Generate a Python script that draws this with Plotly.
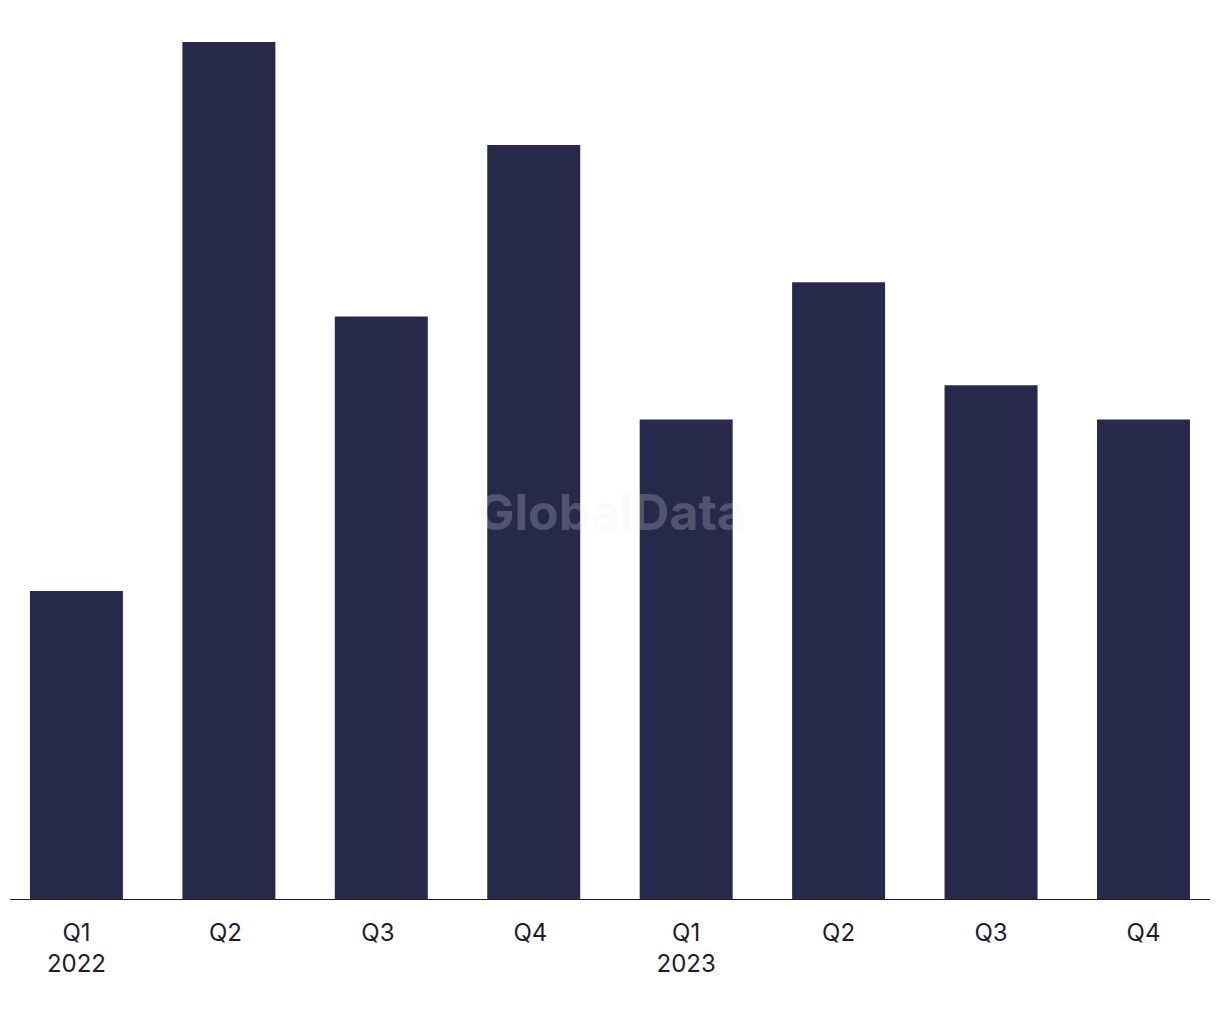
import plotly.graph_objects as go

categories = ["Q1<br>2022", "Q2 ", "Q3 ", "Q4 ", "Q1<br>2023", "Q2", "Q3", "Q4"]
values = [9, 25, 17, 22, 14, 18, 15, 14]

bar_color = "#28284b"
text_color = "#1c1c2e"

W, H = 1212, 1012

fig = go.Figure()
fig.add_trace(go.Bar(
    x=list(range(len(categories))),
    y=values,
    marker=dict(color=bar_color, line=dict(width=0)),
    hoverinfo="skip",
))

fig.update_layout(
    width=W, height=H,
    margin=dict(l=0, r=0, t=34, b=120),
    paper_bgcolor="white", plot_bgcolor="white",
    bargap=0.39,
    showlegend=False,
    font=dict(family="Inter, Liberation Sans, sans-serif", color=text_color, size=24),
    xaxis=dict(
        tickmode="array",
        tickvals=list(range(len(categories))),
        ticktext=categories,
        range=[-0.449, 7.502],
        showgrid=False, zeroline=False, showline=False,
        ticks="", ticklabelstandoff=16,
        tickfont=dict(size=24, color=text_color),
    ),
    yaxis=dict(
        range=[0, 25], visible=False, showgrid=False, zeroline=False,
    ),
)

fig.add_shape(type="line", xref="paper", yref="y",
              x0=2 / W, x1=1202 / W, y0=0, y1=0,
              line=dict(color=text_color, width=2))

fig.add_annotation(text="<b>GlobalData</b>", xref="paper", yref="paper",
                   x=603 / W, y=(892 - 504) / 858, showarrow=False,
                   font=dict(size=50, color="rgba(235,235,240,0.22)", family="Inter, Liberation Sans, sans-serif"))

fig.write_html("out.html")
